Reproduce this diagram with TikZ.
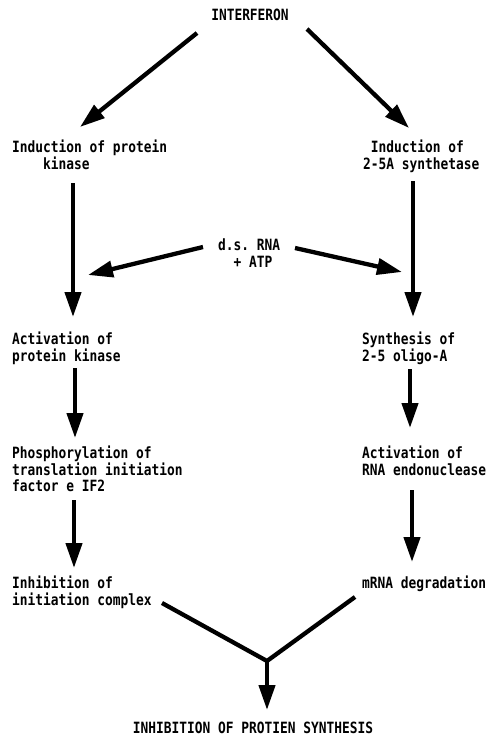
\documentclass[tikz,border=0pt]{standalone}
\usepackage{fontspec}
\setmonofont[FakeStretch=0.83]{DejaVu Sans Mono}
\usetikzlibrary{arrows.meta}
\tikzset{
  lbl/.style={inner sep=0pt, align=left, anchor=north west,
    font=\ttfamily\bfseries\fontsize{15.5}{16.5}\selectfont},
  title/.style={inner sep=0pt,
    font=\ttfamily\bfseries\fontsize{15.5}{16.5}\selectfont},
  flow/.style={line width=4.3pt, -{Triangle[length=25pt,width=16pt]}},
  mergeline/.style={line width=4.3pt}
}
\begin{document}
\begin{tikzpicture}[x=1pt,y=-1pt]
\useasboundingbox (0,0) rectangle (492,736);

% text blocks
\node[title] (ifn) at (250,15) {INTERFERON};
\node[lbl] (ipk) at (12,140) {Induction of protein\\\phantom{Indu}kinase};
\node[lbl] (i25) at (363,140) {\phantom{2}Induction of\\2-5A synthetase};
\node[lbl] (ds) at (218,239) {d.s. RNA\\\phantom{d.}+ ATP};
\node[lbl] (apk) at (12,332) {Activation of\\protein kinase};
\node[lbl] (s25) at (362,332) {Synthesis of\\2-5 oligo-A};
\node[lbl] (phos) at (12,446) {Phosphorylation of\\translation initiation\\factor e IF2};
\node[lbl] (arn) at (362,446) {Activation of\\RNA endonuclease};
\node[lbl] (inh) at (12,576) {Inhibition of\\initiation complex};
\node[lbl] (mrna) at (362,576) {mRNA degradation};
\node[title] (fin) at (253,728) {INHIBITION OF PROTIEN SYNTHESIS};

% connector end points
\coordinate (a1s) at (197,33);  \coordinate (a1e) at (80,127);
\coordinate (a2s) at (307,29);  \coordinate (a2e) at (409,128);
\coordinate (a3s) at (73,183);  \coordinate (a3e) at (73,317);
\coordinate (a4s) at (413,181); \coordinate (a4e) at (413,317);
\coordinate (a5s) at (203,247); \coordinate (a5e) at (88,275);
\coordinate (a6s) at (295,248); \coordinate (a6e) at (402,272);
\coordinate (a7s) at (75,368);  \coordinate (a7e) at (75,438);
\coordinate (a8s) at (410,369); \coordinate (a8e) at (410,428);
\coordinate (a9s) at (74,500);  \coordinate (a9e) at (74,568);
\coordinate (a10s) at (412,490); \coordinate (a10e) at (412,562);
\coordinate (jl) at (162,603);
\coordinate (jr) at (355,597);
\coordinate (jm) at (267,661);
\coordinate (je) at (267,710);

% arrows
\draw[flow] (a1s) -- (a1e);
\draw[flow] (a2s) -- (a2e);
\draw[flow] (a3s) -- (a3e);
\draw[flow] (a4s) -- (a4e);
\draw[flow] (a5s) -- (a5e);
\draw[flow] (a6s) -- (a6e);
\draw[flow] (a7s) -- (a7e);
\draw[flow] (a8s) -- (a8e);
\draw[flow] (a9s) -- (a9e);
\draw[flow] (a10s) -- (a10e);
\draw[mergeline] (jl) -- (jm) -- (jr);
\draw[flow] (jm) -- (je);
\end{tikzpicture}
\end{document}
